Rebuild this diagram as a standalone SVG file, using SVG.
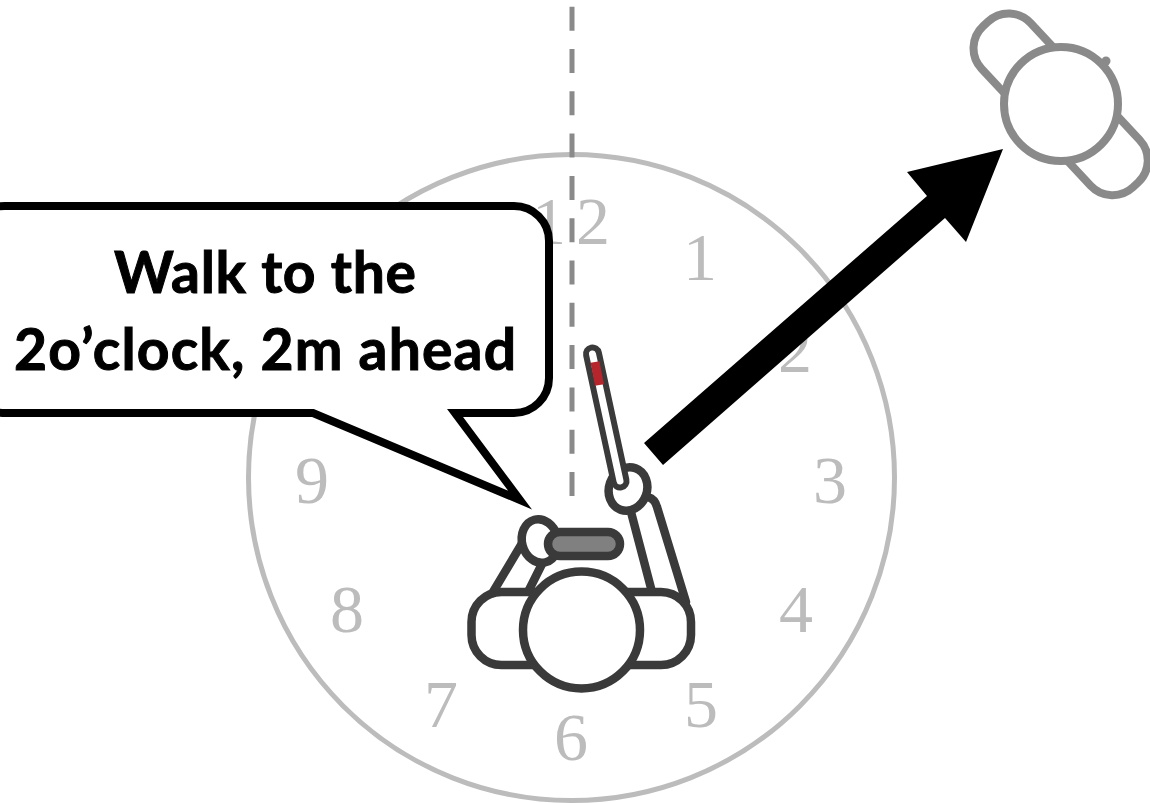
<svg xmlns="http://www.w3.org/2000/svg" width="1150" height="803" viewBox="0 0 1150 803">
<style>
.num{font-family:"Liberation Serif",serif;font-size:68px;fill:#bcbcbc;text-anchor:middle}
.d{stroke:#3a3a3a;stroke-width:8.500;fill:#fff;stroke-linecap:round;stroke-linejoin:round}
.g{stroke:#8a8a8a;stroke-width:8;fill:#fff}
.say{font-family:"Lato","Liberation Sans",sans-serif;font-weight:700;font-size:57px;fill:#000;stroke:#000;stroke-width:1;text-anchor:middle}
</style>
<rect width="1150" height="803" fill="#fff"/>
<g id="clock">
<circle cx="571.500" cy="477.500" r="323" fill="none" stroke="#bcbcbc" stroke-width="5"/>
<text class="num" x="549 593" y="244">12</text>
<text class="num" x="700" y="280">1</text>
<text class="num" x="795" y="372">2</text>
<text class="num" x="830" y="503">3</text>
<text class="num" x="796" y="632">4</text>
<text class="num" x="701" y="727">5</text>
<text class="num" x="571" y="760">6</text>
<text class="num" x="441" y="727">7</text>
<text class="num" x="347" y="632">8</text>
<text class="num" x="312" y="503">9</text>
</g>
<g id="connectors">
<line x1="572" y1="496" x2="572" y2="0" stroke="#8a8a8a" stroke-width="5" stroke-dasharray="24 18.3"/>
<polygon points="644,443 927,196 907,172 1003,149 966,242 945,218 663,465" fill="#000"/>
</g>
<g id="target-person">
<g transform="rotate(47 1061 104)">
<rect class="g" x="951" y="71" width="220" height="67" rx="30"/>
</g>
<circle cx="1106" cy="61" r="4.500" fill="#8a8a8a"/>
<circle class="g" cx="1061" cy="104" r="57"/>
</g>
<g id="speech-bubble">
<path d="M-30 241 A35 35 0 0 1 5 206 H514 A35 35 0 0 1 549 241 V378 A35 35 0 0 1 514 413 H455 L520 500 L313 413 H5 A35 35 0 0 1 -30 378 Z" fill="#fff" stroke="#000" stroke-width="8" stroke-miterlimit="10"/>
<text class="say" x="265" y="293" textLength="302" lengthAdjust="spacing">Walk to the</text>
<text class="say" x="265" y="370" textLength="502" lengthAdjust="spacing">2o’clock, 2m ahead</text>
</g>
<g id="user">
<path class="d" d="M493 592 L527 535"/>
<path class="d" d="M528 592 L544 560"/>
<path class="d" d="M631 512 L652 592"/>
<path class="d" style="fill:none" d="M648 497 Q655 499 657 507 L686 602"/>
<rect class="d" x="471.500" y="592" width="219.500" height="73" rx="30"/>
<circle class="d" cx="581.500" cy="630" r="58.500"/>
<ellipse class="d" cx="540" cy="541" rx="18" ry="22" transform="rotate(-15 540 541)"/>
<rect class="d" x="548" y="532" width="72" height="24" rx="12" style="fill:#808080"/>
<ellipse class="d" cx="628" cy="489" rx="19" ry="22" transform="rotate(20 628 489)"/>
<line x1="592.500" y1="354" x2="620" y2="481" stroke="#3a3a3a" stroke-width="19" stroke-linecap="round"/>
<line x1="592.500" y1="354" x2="620" y2="481" stroke="#fff" stroke-width="7" stroke-linecap="round"/>
<line x1="595" y1="362" x2="599.500" y2="385" stroke="#b5252b" stroke-width="9"/>
</g>
</svg>
